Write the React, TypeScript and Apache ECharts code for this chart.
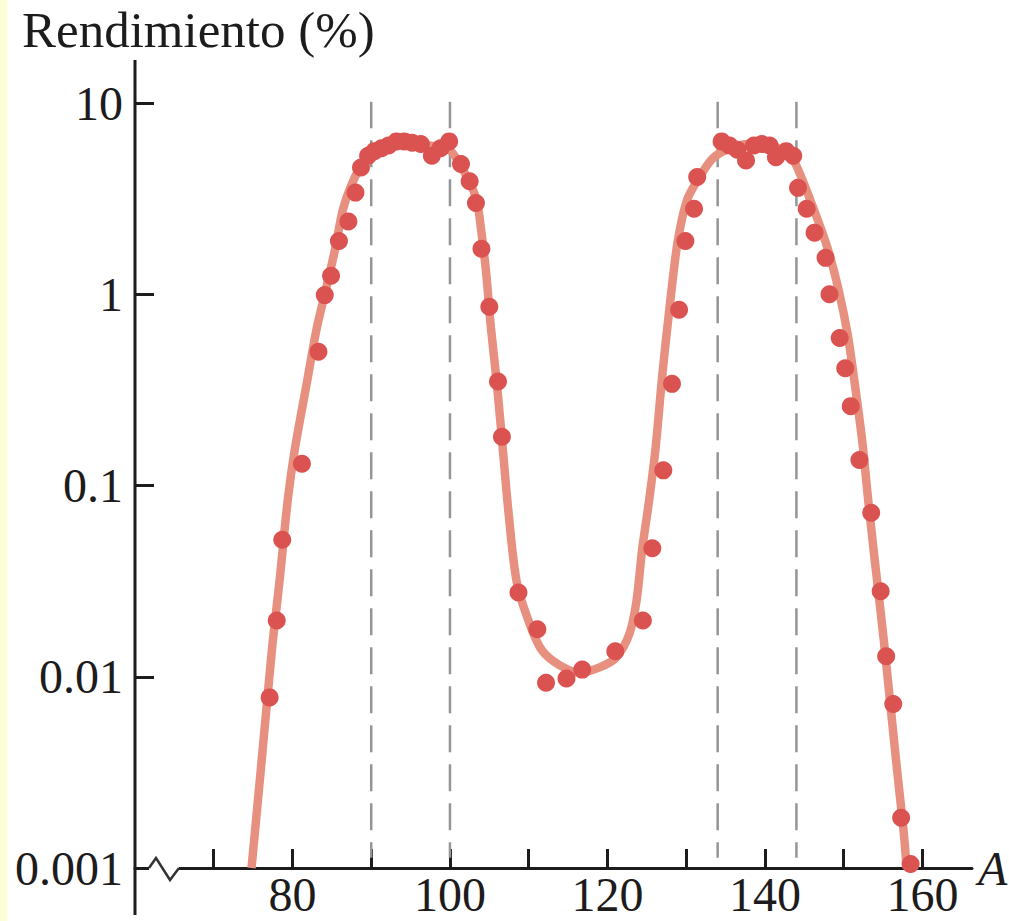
import React, { useEffect, useRef } from 'react';
import * as echarts from 'echarts';

// Measured fission yields (dots)
const pointA = [
  77.1, 78.0, 78.7, 81.2, 83.3, 84.1, 84.9, 85.9, 87.1, 88.0, 88.7,
  89.6, 90.4, 91.3, 92.2, 93.2, 94.2, 95.2, 96.3, 97.7, 98.8, 99.9,
  101.4, 102.5, 103.3, 104.0, 105.0, 106.1, 106.6, 108.7, 111.1, 112.2,
  114.8, 116.8, 121.0, 124.5, 125.7, 127.1, 128.2, 129.1, 129.9, 131.0, 131.4,
  134.5, 135.5, 136.5, 137.6, 138.6, 139.6, 140.6, 141.4, 142.7, 143.6,
  144.2, 145.3, 146.3, 147.7, 148.2, 149.5, 150.2, 150.9, 152.0, 153.5,
  154.7, 155.4, 156.3, 157.3, 158.5,
];
const pointYield = [
  0.0078, 0.0197, 0.052, 0.13, 0.5, 0.99, 1.25, 1.9, 2.4, 3.4, 4.6,
  5.3, 5.6, 5.8, 6.0, 6.3, 6.3, 6.2, 6.1, 5.3, 5.8, 6.3,
  4.8, 3.9, 3.0, 1.73, 0.86, 0.35, 0.18, 0.0276, 0.0177, 0.0093,
  0.0098, 0.0109, 0.0136, 0.0197, 0.047, 0.12, 0.34, 0.83, 1.9, 2.8, 4.1,
  6.3, 6.0, 5.7, 5.0, 6.0, 6.1, 6.0, 5.2, 5.6, 5.3,
  3.6, 2.8, 2.1, 1.55, 1.0, 0.59, 0.41, 0.26, 0.136, 0.072,
  0.028, 0.0128, 0.0072, 0.00183, 0.00105,
];

// Fitted curve
const curveA = [
  74.8, 76.1, 77.4, 78.4, 79.4, 80.3, 81.8, 83.1, 84.1, 85.4, 86.4, 87.5,
  89.0, 91.1, 94.0, 97.4, 99.9, 101.5, 103.3, 104.0, 104.6, 105.2, 105.9, 106.5,
  107.5, 108.5, 110.1, 111.7, 113.9, 116.4, 119.0, 121.1, 122.8, 123.7, 124.4,
  125.3, 126.1, 127.0, 127.9, 128.9, 130.1, 131.7, 133.3, 135.1, 138.0, 140.9,
  143.2, 143.9, 146.0, 147.9, 149.3, 150.5, 151.5, 152.4, 153.1, 154.0, 155.0,
  155.9, 156.8, 157.6, 158.0,
];
const curveYield = [
  0.001, 0.0037, 0.014, 0.033, 0.084, 0.155, 0.34, 0.67, 1.0, 1.71, 2.77, 3.74,
  4.9, 5.7, 6.2, 6.0, 5.7, 4.6, 3.2, 2.1, 1.29, 0.67, 0.36, 0.195,
  0.068, 0.031, 0.019, 0.0137, 0.0115, 0.0105, 0.0112, 0.0126, 0.0168, 0.025, 0.046,
  0.084, 0.155, 0.39, 0.86, 1.86, 3.1, 4.1, 5.1, 5.7, 6.1, 6.0,
  5.15, 4.8, 2.93, 1.77, 1.08, 0.62, 0.32, 0.165, 0.085, 0.039, 0.0169,
  0.0074, 0.0032, 0.00158, 0.001,
];

const dashedA = [90, 100, 134, 144];
const dashTop = 10.2;
const dashBottom = 0.00113;
const xTickValues = [70, 80, 90, 100, 110, 120, 130, 140, 150, 160];
const xLabelValues = [80, 100, 120, 140, 160];
const yTickLabels = ['0.001', '0.01', '0.1', '1', '10'];

const FONT = "'Liberation Serif', 'DejaVu Serif', serif";
const INK = '#1d1b1c';

export default function App() {
  const ref = useRef<HTMLDivElement>(null);
  useEffect(() => {
    if (!ref.current) return;
    const chart = echarts.init(ref.current, null, { renderer: 'svg' });
    const dashedSeries = dashedA.map((a) => ({
      type: 'line',
      data: [[a, dashTop], [a, dashBottom]],
      showSymbol: false,
      silent: true,
      z: 1,
      lineStyle: { color: '#939598', width: 2.5, type: [27, 12] },
    }));
    const option: any = {
      animation: false,
      backgroundColor: '#ffffff',
      grid: { left: 135, right: 37, top: 103, bottom: 53, containLabel: false, outerBoundsMode: 'none' },
      xAxis: {
        type: 'value',
        min: 60,
        max: 166.3,
        name: 'A',
        nameLocation: 'end',
        nameGap: 6,
        nameTextStyle: { fontFamily: FONT, fontSize: 48, fontStyle: 'italic', color: INK },
        axisLine: { show: true, onZero: false, lineStyle: { color: INK, width: 3 } },
        axisTick: { show: true, inside: true, length: 19, customValues: xTickValues, lineStyle: { color: INK, width: 3 } },
        axisLabel: {
          customValues: xLabelValues,
          formatter: (v: number) => String(v),
          fontFamily: FONT, fontSize: 48, lineHeight: 36, color: INK, margin: 8,
        },
        splitLine: { show: false },
      },
      yAxis: {
        type: 'log',
        logBase: 10,
        min: 0.001,
        max: 10,
        axisLine: { show: false },
        axisTick: { show: true, inside: true, length: 19, lineStyle: { color: INK, width: 3 } },
        axisLabel: {
          formatter: (v: number) => yTickLabels[Math.round(Math.log10(v)) + 3],
          fontFamily: FONT, fontSize: 48, color: INK, margin: 12,
        },
        splitLine: { show: false },
      },
      series: [
        ...dashedSeries,
        {
          type: 'line',
          data: curveA.map((a, i) => [a, curveYield[i]]),
          showSymbol: false,
          smooth: 0.3,
          z: 2,
          lineStyle: { color: '#E8907F', width: 8.5 },
        },
        {
          type: 'scatter',
          data: pointA.map((a, i) => [a, pointYield[i]]),
          symbolSize: 18,
          z: 3,
          itemStyle: { color: '#DA5350', opacity: 1 },
        },
      ],
      graphic: [
        { type: 'rect', z: 100, shape: { x: 0, y: 0, width: 7, height: 921 }, style: { fill: '#FFFFD6' } },
        { type: 'line', z: 100, shape: { x1: 135, y1: 60, x2: 135, y2: 915 }, style: { stroke: INK, lineWidth: 3 } },
        { type: 'rect', z: 100, shape: { x: 149, y: 864, width: 30, height: 8 }, style: { fill: '#ffffff' } },
        {
          type: 'polyline', z: 101,
          shape: { points: [[149, 868], [156, 858], [170, 880], [179, 868]] },
          style: { stroke: '#333333', lineWidth: 2.5, fill: 'none' },
        },
        {
          type: 'text', z: 100, x: 22, y: 30,
          style: { text: 'Rendimiento (%)', fontFamily: FONT, fontSize: 51, fill: INK, verticalAlign: 'middle', align: 'left' },
        },
      ],
    };
    chart.setOption(option);
    return () => chart.dispose();
  }, []);
  return <div ref={ref} style={{ position: 'absolute', left: 0, top: 0, width: 1009, height: 921 }} />;
}
